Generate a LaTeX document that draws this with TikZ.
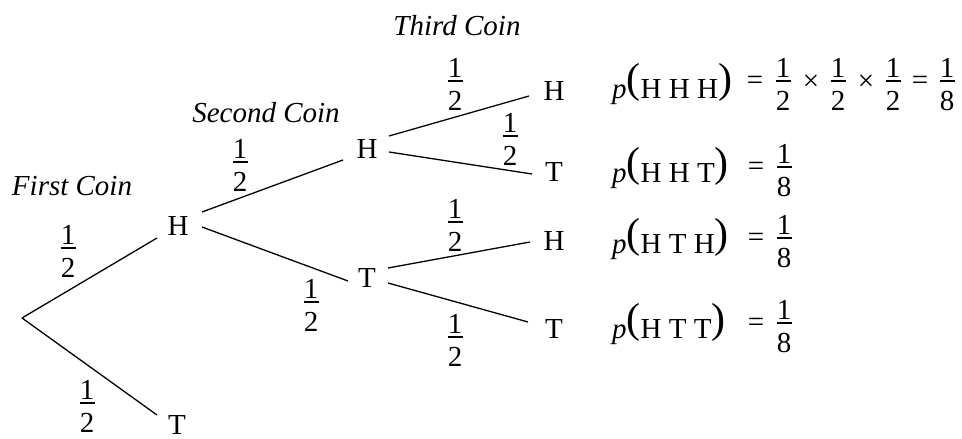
\documentclass[tikz,border=0pt]{standalone}
\usepackage{fontspec}
\setmainfont{Liberation Serif}
\newcommand\bigp[1]{{\fontsize{42}{42}\selectfont\raisebox{6pt}{#1}}}
\begin{document}
\begin{tikzpicture}[x=1pt,y=-1pt,
  lbl/.style={font=\fontsize{29}{30}\selectfont, inner sep=0pt, anchor=base},
  coinlbl/.style={font=\fontsize{29}{30}\selectfont\itshape, inner sep=0pt, anchor=base},
  branch/.style={line width=1.3pt},
  frac/.pic={
    \draw[line width=1.4pt] (-7.5,0) -- (7.5,0);
    \node[lbl] (-n) at (0,-4) {1};
    \node[lbl] (-d) at (0,29) {#1};
  }
]
\useasboundingbox (0,0) rectangle (962,439);

% headings
\node[coinlbl] (c1) at (72,195) {First Coin};
\node[coinlbl] (c2) at (266,122) {Second Coin};
\node[coinlbl] (c3) at (457,35) {Third Coin};

% tree nodes
\coordinate (root) at (22,318);
\node[lbl] (h1) at (178,235) {H};
\node[lbl] (t1) at (177,434) {T};
\node[lbl] (h2) at (367,158) {H};
\node[lbl] (t2) at (367,287) {T};
\node[lbl] (hhh) at (554,100) {H};
\node[lbl] (hht) at (554,181) {T};
\node[lbl] (hth) at (554,250) {H};
\node[lbl] (htt) at (554,338) {T};

% branches
\draw[branch] (root) -- ([shift={(-21,3)}]h1.base);
\draw[branch] (root) -- ([shift={(-20,-19)}]t1.base);
\draw[branch] ([shift={(24,-23)}]h1.base) -- ([shift={(-24,2)}]h2.base);
\draw[branch] ([shift={(24,-8)}]h1.base) -- ([shift={(-19,-6)}]t2.base);
\draw[branch] ([shift={(22,-22)}]h2.base) -- ([shift={(-25,-4)}]hhh.base);
\draw[branch] ([shift={(22,-6)}]h2.base) -- ([shift={(-22,-7)}]hht.base);
\draw[branch] ([shift={(21,-19)}]t2.base) -- ([shift={(-24,-8)}]hth.base);
\draw[branch] ([shift={(21,-4)}]t2.base) -- ([shift={(-26,-16)}]htt.base);

% branch probabilities
\pic (fa) at (68,248) {frac=2};
\pic (fb) at (87,403) {frac=2};
\pic (fc) at (240,162) {frac=2};
\pic (fd) at (311,302) {frac=2};
\pic (fe) at (455,81) {frac=2};
\pic (ff) at (510,136) {frac=2};
\pic (fg) at (455,222) {frac=2};
\pic (fh) at (455,337) {frac=2};

% results
\node[lbl,anchor=base west] (p1) at (612,98) {\textit{p}\bigp{(}H\ H\ H\bigp{)}};
\node[lbl] (e1) at (755,89) {=};
\pic (r1a) at (783,81) {frac=2};
\node[lbl] (x1) at (811,90) {×};
\pic (r1b) at (838,81) {frac=2};
\node[lbl] (x2) at (866,90) {×};
\pic (r1c) at (893,81) {frac=2};
\node[lbl] (e1b) at (920,89) {=};
\pic (r1d) at (947,81) {frac=8};

\node[lbl,anchor=base west] (p2) at (612,182) {\textit{p}\bigp{(}H\ H\ T\bigp{)}};
\node[lbl] (e2) at (756,175) {=};
\pic (r2) at (784,167) {frac=8};

\node[lbl,anchor=base west] (p3) at (612,253) {\textit{p}\bigp{(}H\ T\ H\bigp{)}};
\node[lbl] (e3) at (756,246) {=};
\pic (r3) at (784,238) {frac=8};

\node[lbl,anchor=base west] (p4) at (612,338) {\textit{p}\bigp{(}H\ T\ T\bigp{)}};
\node[lbl] (e4) at (756,331) {=};
\pic (r4) at (784,323) {frac=8};
\end{tikzpicture}
\end{document}
